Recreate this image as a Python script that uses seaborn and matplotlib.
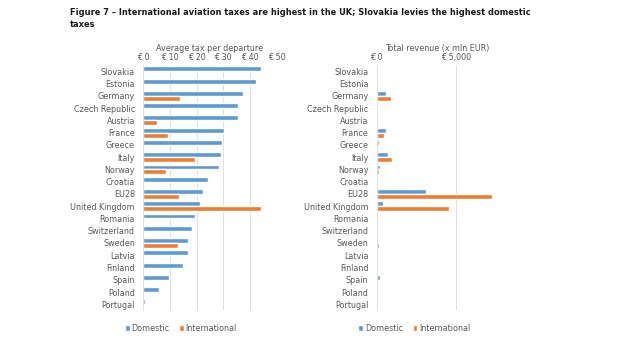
import matplotlib
matplotlib.use("Agg")
import matplotlib.pyplot as plt
import seaborn as sns
import pandas as pd
from matplotlib.patches import Patch

countries = ["Slovakia", "Estonia", "Germany", "Czech Republic", "Austria", "France",
             "Greece", "Italy", "Norway", "Croatia", "EU28", "United Kingdom", "Romania",
             "Switzerland", "Sweden", "Latvia", "Finland", "Spain", "Poland", "Portugal"]
tax_domestic = [44.0, 42.1, 37.3, 35.6, 35.4, 30.3, 29.5, 29.3, 28.5, 24.4, 22.5, 21.3,
                19.4, 18.3, 16.8, 16.6, 14.8, 9.6, 5.9, 0.6]
tax_international = [0, 0, 13.6, 0, 5.1, 9.4, 0, 19.5, 8.5, 0, 13.4, 44.0,
                     0, 0, 13.0, 0, 0, 0, 0, 0]
rev_domestic = [5, 0, 560, 0, 20, 580, 170, 700, 230, 0, 3080, 420,
                0, 0, 100, 5, 10, 210, 0, 5]
rev_international = [0, 0, 920, 0, 0, 460, 0, 980, 170, 0, 7230, 4540,
                     0, 0, 120, 0, 0, 0, 0, 0]
series = ["Domestic", "International"]
tax_ticks = [0, 10, 20, 30, 40, 50]
tax_ticklabels = ["€ 0", "€ 10", "€ 20", "€ 30", "€ 40", "€ 50"]
rev_ticks = [0, 5000]
rev_ticklabels = ["€ 0", "€ 5,000"]

sns.set_theme(style="white")
plt.rcParams["font.family"] = ["DejaVu Sans"]

blue = "#5B9BD5"
orange = "#ED7D31"
palette = {series[0]: blue, series[1]: orange}
txt = "#595959"

df_tax = pd.DataFrame({
    "country": countries * 2,
    "value": tax_domestic + tax_international,
    "type": [series[0]] * len(countries) + [series[1]] * len(countries),
})
df_rev = pd.DataFrame({
    "country": countries * 2,
    "value": rev_domestic + rev_international,
    "type": [series[0]] * len(countries) + [series[1]] * len(countries),
})

fig = plt.figure(figsize=(6.2, 3.41), dpi=100)
ax1 = fig.add_axes([0.2311, 0.0897, 0.2152, 0.7191])
ax2 = fig.add_axes([0.6076, 0.0897, 0.1956, 0.7191])

for ax, df, xlim, ticks, tl, lab, lx in [
    (ax1, df_tax, (0, 50), tax_ticks, tax_ticklabels, "Average tax per departure", 0.28),
    (ax2, df_rev, (0, 7600), rev_ticks, rev_ticklabels, "Total revenue (x mln EUR)", 0.31),
]:
    sns.barplot(data=df, y="country", x="value", hue="type", palette=palette,
                orient="h", width=0.8, ax=ax, legend=False, saturation=1)
    ax.set_xlim(*xlim)
    ax.set_ylim(len(countries) - 0.5, -0.5)
    ax.xaxis.tick_top()
    ax.xaxis.set_label_position("top")
    ax.set_xticks(ticks)
    ax.set_xticklabels(tl, fontsize=5.8, color=txt)
    ax.set_xlabel(lab, fontsize=5.8, color=txt, labelpad=2)
    ax.set_ylabel("")
    ax.tick_params(axis="y", labelsize=5.8, labelcolor=txt, length=0, pad=6)
    ax.tick_params(axis="x", length=0, pad=2)
    ax.grid(axis="x", color="#E0E0E0", linewidth=0.7)
    ax.set_axisbelow(True)
    for s in ["top", "right", "bottom"]:
        ax.spines[s].set_visible(False)
    ax.spines["left"].set_color("#E0E0E0")
    ax.spines["left"].set_linewidth(0.7)
    handles = [Patch(facecolor=blue, label=series[0]),
               Patch(facecolor=orange, label=series[1])]
    ax.legend(handles=handles, loc="upper center", bbox_to_anchor=(lx, -0.025),
              ncol=2, frameon=False, fontsize=5.8, handlelength=0.6, handleheight=0.6,
              handletextpad=0.2, columnspacing=1.2, labelcolor=txt)

fig.text(0.113, 0.963, "Figure 7 – International aviation taxes are highest in the UK; Slovakia levies the highest domestic",
         fontsize=5.95, fontweight="bold", color="#1a1a1a", va="center")
fig.text(0.113, 0.927, "taxes", fontsize=5.95, fontweight="bold", color="#1a1a1a", va="center")

fig.savefig("out.png", dpi=100)
